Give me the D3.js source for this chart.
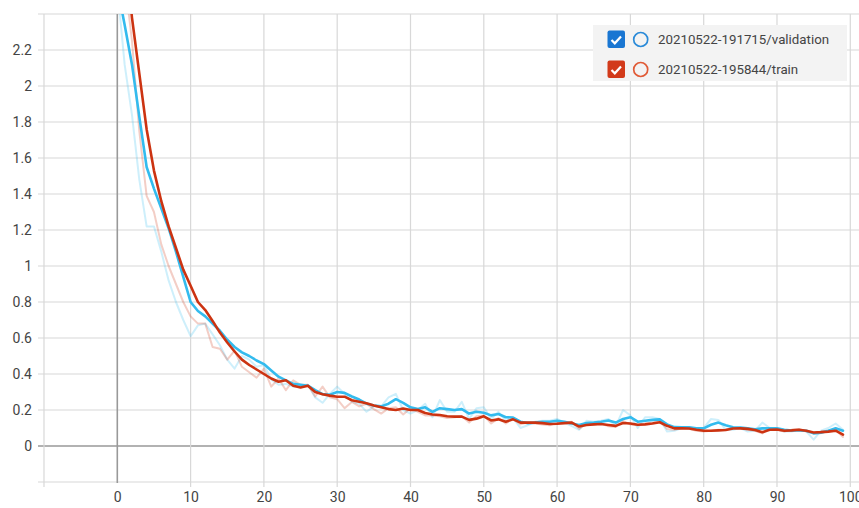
<!DOCTYPE html>
<html>
<head>
<meta charset="utf-8">
<script src="https://cdn.jsdelivr.net/npm/d3@7"></script>
<style>
  html, body { margin: 0; padding: 0; background: #fff; }
  svg { display: block; font-family: Roboto, "Noto Sans", Arial, sans-serif; }
</style>
</head>
<body>
<svg id="chart" width="859" height="508"></svg>
<script>
// Loss per step (index = step), raw and smoothed, for the two runs
const valRaw = [2.55, 2.12, 1.84, 1.48, 1.22, 1.22, 1.08, 0.92, 0.80, 0.70,
  0.61, 0.67, 0.68, 0.62, 0.56, 0.48, 0.43, 0.50, 0.48, 0.44,
  0.45, 0.37, 0.34, 0.345, 0.33, 0.33, 0.34, 0.27, 0.24, 0.29,
  0.33, 0.29, 0.245, 0.235, 0.19, 0.22, 0.22, 0.27, 0.29, 0.20,
  0.18, 0.20, 0.235, 0.16, 0.255, 0.19, 0.19, 0.245, 0.15, 0.21,
  0.215, 0.15, 0.19, 0.14, 0.155, 0.10, 0.115, 0.135, 0.14, 0.14,
  0.15, 0.13, 0.11, 0.09, 0.14, 0.135, 0.14, 0.15, 0.11, 0.20,
  0.17, 0.10, 0.16, 0.16, 0.15, 0.08, 0.085, 0.10, 0.105, 0.09,
  0.10, 0.15, 0.145, 0.09, 0.09, 0.10, 0.08, 0.085, 0.13, 0.10,
  0.095, 0.08, 0.08, 0.09, 0.08, 0.035, 0.085, 0.10, 0.125, 0.09];

const valSmooth = [2.55, 2.34, 2.12, 1.83, 1.55, 1.43, 1.32, 1.21, 1.08, 0.94,
  0.80, 0.75, 0.72, 0.68, 0.64, 0.59, 0.55, 0.52, 0.50, 0.475,
  0.455, 0.42, 0.385, 0.365, 0.345, 0.34, 0.335, 0.31, 0.288, 0.285,
  0.30, 0.295, 0.275, 0.258, 0.235, 0.225, 0.22, 0.235, 0.26, 0.24,
  0.215, 0.205, 0.215, 0.19, 0.21, 0.205, 0.20, 0.205, 0.18, 0.19,
  0.185, 0.17, 0.178, 0.16, 0.158, 0.135, 0.127, 0.13, 0.135, 0.135,
  0.14, 0.135, 0.125, 0.117, 0.128, 0.13, 0.135, 0.142, 0.13, 0.15,
  0.16, 0.135, 0.14, 0.145, 0.148, 0.12, 0.105, 0.104, 0.104, 0.098,
  0.098, 0.118, 0.13, 0.115, 0.104, 0.102, 0.098, 0.093, 0.098, 0.098,
  0.098, 0.09, 0.086, 0.087, 0.085, 0.07, 0.074, 0.085, 0.098, 0.085];

const trainRaw = [3.2, 2.6, 2.25, 1.75, 1.39, 1.30, 1.12, 1.00, 0.90, 0.80,
  0.72, 0.68, 0.68, 0.55, 0.54, 0.48, 0.53, 0.44, 0.41, 0.38,
  0.43, 0.33, 0.375, 0.31, 0.365, 0.34, 0.34, 0.275, 0.33, 0.27,
  0.26, 0.21, 0.245, 0.22, 0.235, 0.205, 0.18, 0.21, 0.215, 0.175,
  0.21, 0.19, 0.17, 0.17, 0.165, 0.155, 0.16, 0.165, 0.13, 0.165,
  0.17, 0.125, 0.155, 0.125, 0.155, 0.12, 0.13, 0.125, 0.12, 0.115,
  0.13, 0.13, 0.135, 0.095, 0.125, 0.12, 0.125, 0.11, 0.105, 0.14,
  0.12, 0.115, 0.125, 0.13, 0.14, 0.095, 0.09, 0.10, 0.095, 0.085,
  0.08, 0.085, 0.09, 0.09, 0.10, 0.10, 0.09, 0.085, 0.07, 0.10,
  0.09, 0.08, 0.09, 0.095, 0.08, 0.07, 0.08, 0.085, 0.09, 0.05];

const trainSmooth = [3.2, 2.78, 2.38, 2.07, 1.76, 1.53, 1.36, 1.22, 1.10, 0.98,
  0.89, 0.80, 0.755, 0.695, 0.63, 0.575, 0.525, 0.48, 0.45, 0.425,
  0.40, 0.375, 0.357, 0.365, 0.335, 0.325, 0.335, 0.30, 0.288, 0.28,
  0.274, 0.274, 0.254, 0.246, 0.238, 0.225, 0.215, 0.205, 0.20, 0.208,
  0.20, 0.20, 0.183, 0.175, 0.172, 0.165, 0.163, 0.163, 0.145, 0.152,
  0.165, 0.142, 0.148, 0.135, 0.148, 0.13, 0.13, 0.13, 0.127, 0.122,
  0.124, 0.127, 0.13, 0.108, 0.117, 0.12, 0.122, 0.117, 0.112, 0.128,
  0.125, 0.118, 0.12, 0.125, 0.132, 0.112, 0.098, 0.098, 0.097, 0.09,
  0.085, 0.085, 0.087, 0.089, 0.097, 0.098, 0.095, 0.089, 0.076, 0.09,
  0.092, 0.085, 0.087, 0.09, 0.085, 0.075, 0.077, 0.08, 0.085, 0.063];

const runNames = ["20210522-191715/validation", "20210522-195844/train"];
const xTicks = [-10, 0, 10, 20, 30, 40, 50, 60, 70, 80, 90, 100, 110];
const xTickLabels = [0, 10, 20, 30, 40, 50, 60, 70, 80, 90, 100];
const yTicks = [-0.2, 0, 0.2, 0.4, 0.6, 0.8, 1, 1.2, 1.4, 1.6, 1.8, 2, 2.2, 2.4];
const yTickLabels = [0, 0.2, 0.4, 0.6, 0.8, 1, 1.2, 1.4, 1.6, 1.8, 2, 2.2];

const svg = d3.select("#chart");
const W = 859, H = 508;
const plot = { left: 38, top: 14, bottom: 482 };

const x = d3.scaleLinear().domain([-10, 100]).range([44, 850.3]);
const y = d3.scaleLinear().domain([-0.2, 2.4]).range([482, 14]);

svg.append("rect").attr("width", W).attr("height", H).attr("fill", "#fff");

// grid, with darker lines through zero
const grid = svg.append("g");
grid.selectAll("line.h").data(yTicks).join("line")
  .attr("x1", plot.left).attr("x2", W + 20)
  .attr("y1", d => y(d)).attr("y2", d => y(d))
  .attr("stroke", d => d === 0 ? "#999" : "#d8d8d8")
  .attr("stroke-width", d => d === 0 ? 1.6 : 1.2);
grid.selectAll("line.v").data(xTicks).join("line")
  .attr("x1", d => x(d)).attr("x2", d => x(d))
  .attr("y1", plot.top).attr("y2", d => d === 0 ? plot.bottom + 1 : plot.bottom + 5)
  .attr("stroke", d => d === 0 ? "#999" : "#d8d8d8")
  .attr("stroke-width", d => d === 0 ? 1.6 : 1.2);

// axis labels
const yAxis = d3.axisLeft(y).tickValues(yTickLabels).tickSize(0).tickPadding(0)
  .tickFormat(d3.format("~g"));
svg.append("g").attr("transform", "translate(32,0)").call(yAxis)
  .call(g => g.select(".domain").remove())
  .call(g => g.selectAll("text").attr("fill", "#444").attr("font-size", 14)
    .attr("font-family", "Roboto, sans-serif"));

const xAxis = d3.axisBottom(x).tickValues(xTickLabels).tickSize(0).tickPadding(0)
  .tickFormat(d3.format("~g"));
svg.append("g").attr("transform", "translate(0,492)").call(xAxis)
  .call(g => g.select(".domain").remove())
  .call(g => g.selectAll("text").attr("fill", "#444").attr("font-size", 14)
    .attr("font-family", "Roboto, sans-serif"));

// series: faded raw values under the smoothed curves
svg.append("clipPath").attr("id", "plotClip")
  .append("rect").attr("x", plot.left).attr("y", plot.top)
  .attr("width", W - plot.left + 20).attr("height", plot.bottom - plot.top);

const line = d3.line().x((d, i) => x(i)).y(d => y(d));
const lines = svg.append("g").attr("clip-path", "url(#plotClip)")
  .attr("fill", "none").attr("stroke-linejoin", "round").attr("stroke-linecap", "round");

const series = [
  { raw: valRaw, smooth: valSmooth, color: "#33bbee" },
  { raw: trainRaw, smooth: trainSmooth, color: "#cc3311" }
];
series.forEach(s => {
  lines.append("path").attr("d", line(s.raw))
    .attr("stroke", s.color).attr("stroke-opacity", 0.24).attr("stroke-width", 2);
});
series.forEach(s => {
  lines.append("path").attr("d", line(s.smooth))
    .attr("stroke", s.color).attr("stroke-width", 2.6);
});

// legend
const legend = svg.append("g");
legend.append("rect").attr("x", 593).attr("y", 25).attr("width", 254).attr("height", 56)
  .attr("fill", "#f3f3f3");
const legendColors = [
  { box: "#1976d2", ring: "#2a8ad8" },
  { box: "#d23a1a", ring: "#e05a36" }
];
runNames.forEach((name, i) => {
  const cy = 39.5 + i * 30;
  const row = legend.append("g");
  row.append("rect").attr("x", 607.5).attr("y", cy - 9).attr("width", 17.5).attr("height", 17.5)
    .attr("rx", 2).attr("fill", legendColors[i].box);
  row.append("path")
    .attr("d", `M${611.5},${cy + 0.5} L${614.8},${cy + 3.8} L${621},${cy - 3}`)
    .attr("fill", "none").attr("stroke", "#fff").attr("stroke-width", 2.2);
  row.append("circle").attr("cx", 640.7).attr("cy", cy).attr("r", 7)
    .attr("fill", "none").attr("stroke", legendColors[i].ring).attr("stroke-width", 1.7);
  row.append("text").attr("x", 658).attr("y", cy).attr("dy", "0.35em")
    .attr("font-size", 13.3).attr("fill", "#444").text(name);
});
</script>
</body>
</html>
